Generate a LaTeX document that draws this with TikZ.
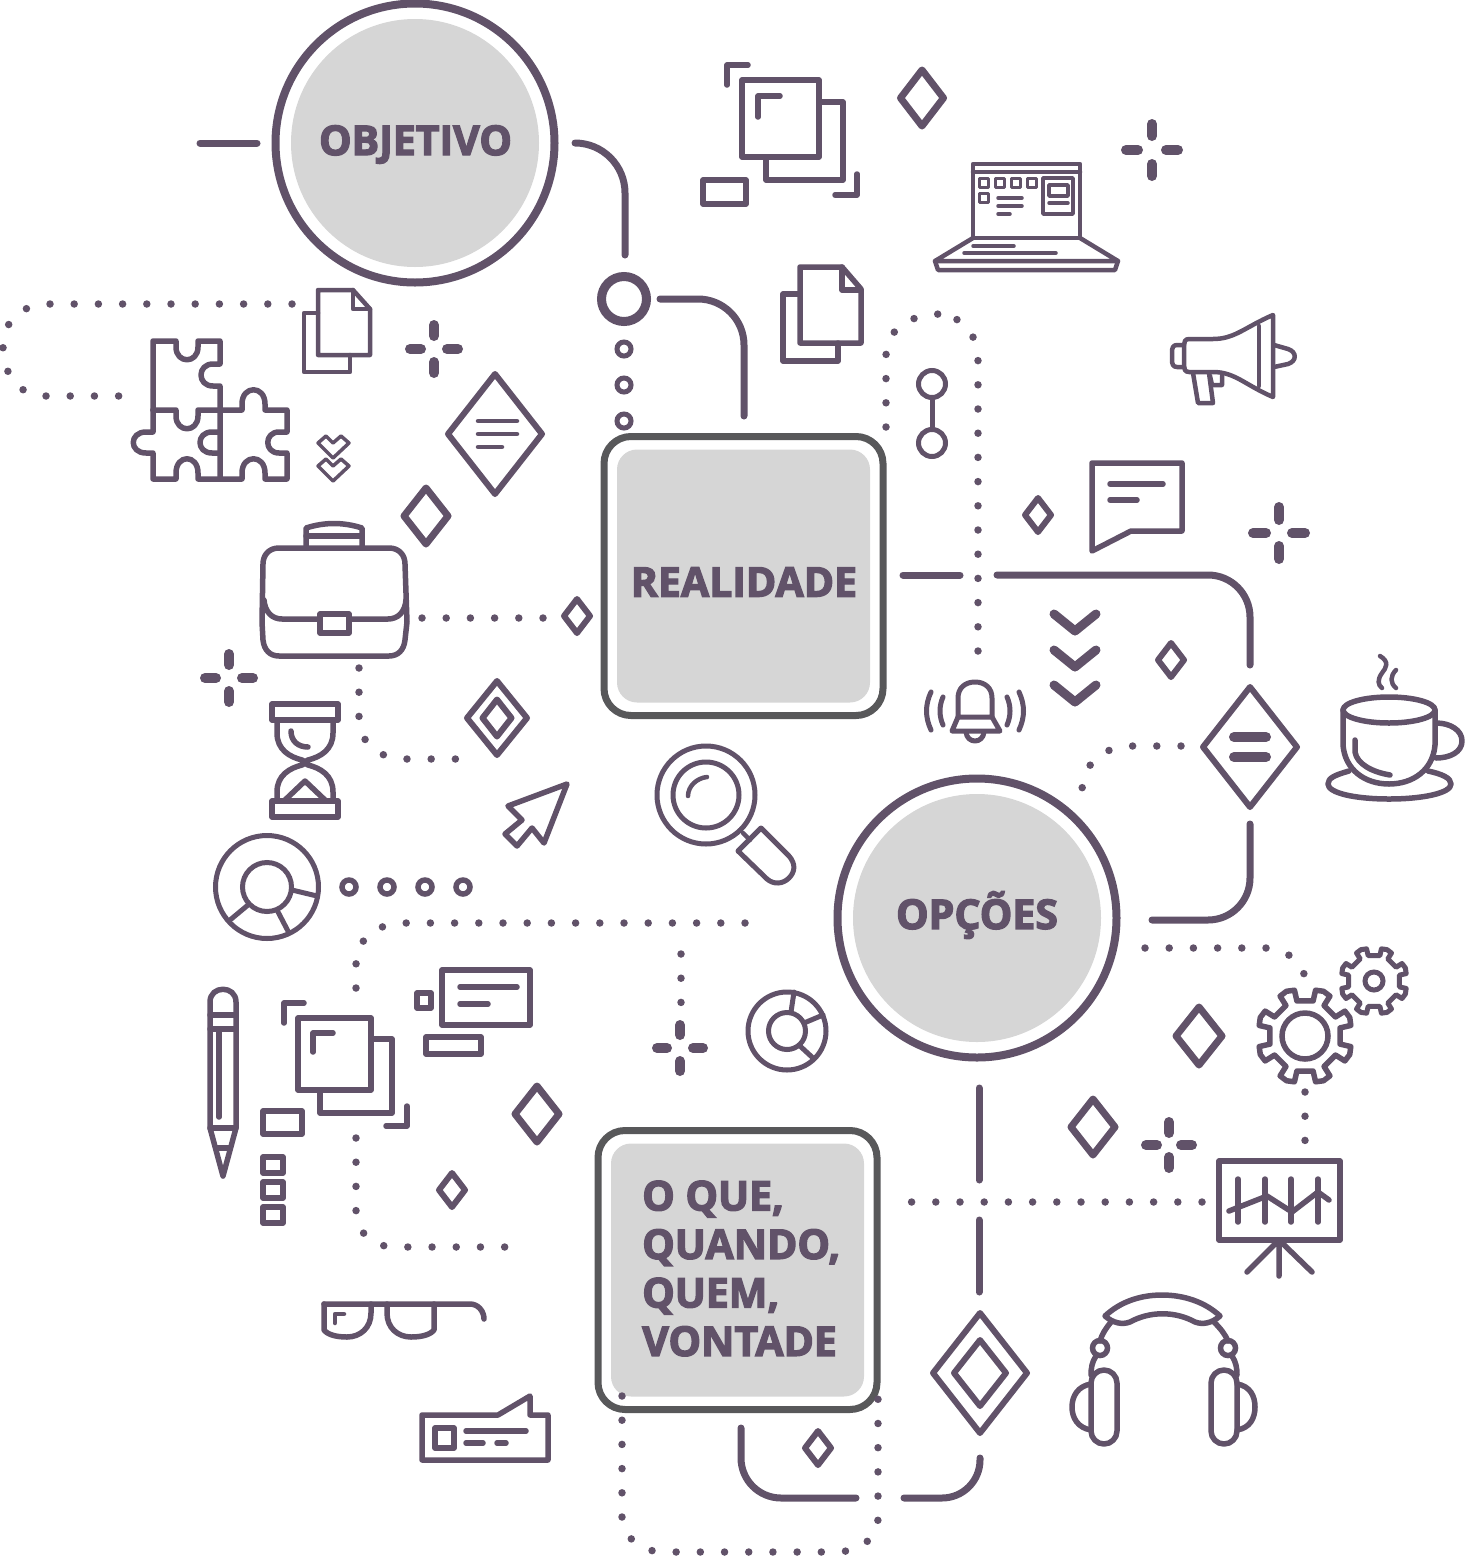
\documentclass[tikz,border=0pt]{standalone}
\usepackage{fontspec}
\newfontfamily\hf[BoldFeatures={FakeBold=3.2}]{Open Sans}
\definecolor{ink}{HTML}{615269}
\definecolor{boxline}{HTML}{58585A}
\definecolor{panel}{HTML}{D6D6D6}
\tikzset{
  ic/.style={draw=ink,line width=5.5pt,line cap=round,line join=round},
  thin ic/.style={ic,line width=4.5pt},
  conn/.style={ic,line width=7pt},
  dots/.style={draw=ink,line width=7.5pt,line cap=round,dash pattern=on 0pt off 24.2pt},
  ringline/.style={circle,draw=ink,line width=8pt,minimum size=279pt,inner sep=0pt},
  boxlinest/.style={rectangle,rounded corners=27pt,draw=boxline,line width=7pt,minimum size=279pt,inner sep=0pt},
  discpanel/.style={circle,fill=panel,minimum size=248pt,inner sep=0pt,text=ink,font=\hf\bfseries\fontsize{41}{48.5}\selectfont},
  boxpanel/.style={rectangle,rounded corners=20pt,fill=panel,minimum size=253pt,inner sep=0pt,text=ink,font=\hf\bfseries\fontsize{41}{48.5}\selectfont},
}
\newcommand\Dia[5]{\draw[ic,line width=#5pt] ({#1-#3},#2) -- (#1,{#2-#4}) -- ({#1+#3},#2) -- (#1,{#2+#4}) -- cycle;}
\newcommand\Spark[4]{\draw[ic,line width=10pt] ({#1-#4},#2) -- ({#1-#3},#2) ({#1+#3},#2) -- ({#1+#4},#2) (#1,{#2-#4}) -- (#1,{#2-#3}) (#1,{#2+#3}) -- (#1,{#2+#4});}
% gear: cx cy outer root lw
\newcommand\Gear[5]{\draw[ic,line width=#5pt] ({#1+#3*cos(-13)},{#2+#3*sin(-13)})
  \foreach \k in {0,45,...,315}{
    -- ({#1+#4*cos(\k-13)},{#2+#4*sin(\k-13)})
    -- ({#1+#4*cos(\k+13)},{#2+#4*sin(\k+13)})
    -- ({#1+#3*cos(\k+13)},{#2+#3*sin(\k+13)})
    -- ({#1+#3*1.03*cos(\k+22.5)},{#2+#3*1.03*sin(\k+22.5)})
    -- ({#1+#3*cos(\k+32)},{#2+#3*sin(\k+32)})
  } -- cycle;}
\begin{document}
\begin{tikzpicture}[x=1pt,y=-1pt]
\useasboundingbox (0,0) rectangle (1472,1556);

% ---- main nodes
\node[ringline] (objring) at (415,143) {};
\node[discpanel] (objetivo) at (415,143) {};
\node[text=ink,inner sep=0pt,font=\hf\bfseries\fontsize{41}{48.5}\selectfont] (objtxt) at (415.5,144.5) {OBJETIVO};
\node[ringline] (opcring) at (977,918) {};
\node[discpanel] (opcoes) at (977,918) {};
\node[text=ink,inner sep=0pt,font=\hf\bfseries\fontsize{41}{48.5}\selectfont] (opctxt) at (977,915) {OPÇÕES};
\node[boxlinest] (realbox) at (743.5,576) {};
\node[boxpanel] (realidade) at (743.5,576) {};
\node[text=ink,inner sep=0pt,font=\hf\bfseries\fontsize{41}{48.5}\selectfont] (realtxt) at (744,582) {REALIDADE};
\node[boxlinest] (oquebox) at (737.5,1270) {};
\node[boxpanel] (oque) at (737.5,1270) {};
\node[anchor=west,inner sep=0pt,align=left,text=ink,font=\hf\bfseries\fontsize{41}{48.5}\selectfont] (oquetxt) at (642,1268.5) {O QUE,\\QUANDO,\\QUEM,\\VONTADE};

% ---- rings on the first connector
\node[circle,draw=ink,line width=9pt,minimum size=45pt,inner sep=0pt] (hub) at (624,299) {};
\node[circle,draw=ink,line width=5pt,minimum size=14pt,inner sep=0pt] (r1) at (624,349) {};
\node[circle,draw=ink,line width=5pt,minimum size=14pt,inner sep=0pt] (r2) at (624,385) {};
\node[circle,draw=ink,line width=5pt,minimum size=14pt,inner sep=0pt] (r3) at (624,421) {};
\foreach \n/\x in {d1/349,d2/387,d3/425,d4/463}
  \node[circle,draw=ink,line width=5.5pt,minimum size=14pt,inner sep=0pt] (\n) at (\x,887) {};
% small ring pair
\node[circle,draw=ink,line width=5pt,minimum size=27pt,inner sep=0pt] (p1) at (932,384) {};
\node[circle,draw=ink,line width=5pt,minimum size=27pt,inner sep=0pt] (p2) at (932,443) {};
\draw[ic,line width=5pt] (p1) -- (p2);

% ---- free connector ends
\coordinate (a0) at (200,143); \coordinate (a1) at (257,143);
\coordinate (b0) at (575,143); \coordinate (b1) at (625,143); \coordinate (b2) at (625,255);
\coordinate (c0) at (660,299); \coordinate (c1) at (744,299); \coordinate (c2) at (744,416);
\coordinate (e0) at (903,575); \coordinate (e1) at (960,575);
\coordinate (f0) at (997,575); \coordinate (f1) at (1250,575); \coordinate (f2) at (1250,665);
\coordinate (g0) at (1250,824); \coordinate (g1) at (1250,920); \coordinate (g2) at (1152,920);
\coordinate (h0) at (979,1088); \coordinate (h1) at (979,1180);
\coordinate (i0) at (979,1220); \coordinate (i1) at (979,1292);
\coordinate (j0) at (741,1428); \coordinate (j1) at (741,1498); \coordinate (j2) at (856,1498);
\coordinate (k0) at (904,1498); \coordinate (k1) at (980,1498); \coordinate (k2) at (980,1458);
\draw[conn] (a0) -- (a1);
\draw[conn,rounded corners=50pt] (b0) -- (b1) -- (b2);
\draw[conn,rounded corners=46pt] (c0) -- (c1) -- (c2);
\draw[conn] (e0) -- (e1);
\draw[conn,rounded corners=42pt] (f0) -- (f1) -- (f2);
\draw[conn,rounded corners=42pt] (g0) -- (g1) -- (g2);
\draw[conn] (h0) -- (h1);
\draw[conn] (i0) -- (i1);
\draw[conn,rounded corners=40pt] (j0) -- (j1) -- (j2);
\draw[conn,rounded corners=38pt] (k0) -- (k1) -- (k2);

% ---- dotted connectors
\draw[dots] (292,304) -- (50,304) .. controls (20,304) and (3,322) .. (3,347) .. controls (3,375) and (20,396) .. (44,396) -- (119,396);
\draw[dots] (886,427) -- (886,356) .. controls (886,332) and (906,314) .. (942,314);
\draw[dots] (978,651) -- (978,361) .. controls (978,342) and (970,326) .. (956,319);
\draw[dots] (422,618) -- (546,618);
\draw[dots] (359,668) -- (359,718) .. controls (359,742) and (378,759) .. (405,759) -- (457,759);
\draw[dots] (1181,746) -- (1132,746) .. controls (1105,746) and (1083,762) .. (1082,790);
\draw[dots] (745,923) -- (405,923) .. controls (375,923) and (356,940) .. (356,965) -- (356,992);
\draw[dots] (356,1138) -- (356,1210) .. controls (356,1232) and (372,1247) .. (395,1247) -- (511,1247);
\draw[dots] (681,954) -- (681,1003);
\draw[dots] (1145,948) -- (1266,948) .. controls (1285,950) and (1298,958) .. (1304,974);
\draw[dots] (1305,1092) -- (1305,1141);
\draw[dots] (1202,1202) -- (910,1202);
\draw[dots] (622,1396) -- (622,1517) .. controls (624,1538) and (640,1552) .. (665,1552) -- (835,1552) .. controls (860,1552) and (878,1538) .. (878,1518) -- (878,1396);

% ---- diamonds
\Dia{922}{98}{21.5}{28}{7}
\Dia{495}{434}{47}{60}{6}
\draw[ic,line width=4.5pt] (478,421) -- (517,421) (478,434) -- (517,434) (478,447) -- (502,447);
\Dia{426}{516}{22}{28}{7}
\Dia{577}{616}{13}{17}{6}
\Dia{1038}{515}{13}{17}{6}
\Dia{1171}{660}{13}{17}{6}
\Dia{1250}{747}{47}{60}{6}
\draw[ic,line width=10pt] (1234,737) -- (1266,737) (1234,757) -- (1266,757);
\Dia{497}{718}{30}{37}{6}
\Dia{497}{718}{14.5}{18.5}{6}
\Dia{1199}{1036}{23}{29}{7}
\Dia{1093}{1127}{22}{28}{7}
\Dia{537}{1114}{22}{28}{7}
\Dia{452}{1190}{13}{17}{6}
\Dia{818}{1448}{13}{17}{6}
\Dia{980}{1373}{47}{60}{6}
\Dia{980}{1373}{26}{33}{6}

% ---- sparks
\Spark{1152}{150}{14}{26}
\Spark{434}{349}{13}{24}
\Spark{1279}{533}{13}{26}
\Spark{229}{678}{13}{24}
\Spark{680}{1048}{13}{23}
\Spark{1169}{1145}{12}{23}

% ---- layered squares, top
\draw[ic] (742,80) rectangle (819,157);
\draw[ic] (819,102) -- (843,102) -- (843,180) -- (766,180) -- (766,157);
\draw[ic] (727,85) -- (727,65) -- (748,65);
\draw[ic] (758,117) -- (758,96) -- (780,96);
\draw[ic] (835,195) -- (857,195) -- (857,174);
\draw[ic] (703,180) rectangle (746,204);

% ---- laptop
\draw[thin ic] (973,238) -- (973,164) -- (1080,164) -- (1080,238) -- cycle;
\draw[thin ic] (973,172) -- (1080,172);
\foreach \x/\y in {984/183,1000/183,1016/183,1032/183,984/198}
  \draw[ic,line width=3.5pt] ({\x-4.5},{\y-4.5}) rectangle ({\x+4.5},{\y+4.5});
\draw[ic,line width=3.5pt] (998,198) -- (1022,198) (998,206) -- (1022,206) (998,214) -- (1010,214);
\draw[ic,line width=3.5pt] (1043,178) rectangle (1073,214);
\draw[ic,line width=3.5pt] (1049,185) rectangle (1068,196);
\draw[ic,line width=3.5pt] (1049,203) -- (1068,203);
\draw[thin ic] (973,238) -- (935,261) -- (1118,261) -- (1080,238);
\draw[thin ic] (935,261) -- (938,270) -- (1115,270) -- (1118,261);
\draw[ic,line width=3.5pt] (973,246) -- (1014,246) (964,253) -- (1056,253);

% ---- documents
\draw[ic] (800,267) -- (842,267) -- (861,289) -- (861,343) -- (800,343) -- cycle;
\draw[ic] (842,267) -- (842,290) -- (861,290);
\draw[ic] (800,294) -- (783,294) -- (783,361) -- (838,361) -- (838,343);
\draw[thin ic] (318,290) -- (353,290) -- (370,309) -- (370,355) -- (318,355) -- cycle;
\draw[thin ic] (353,290) -- (353,309) -- (370,309);
\draw[thin ic] (318,313) -- (304,313) -- (304,372) -- (350,372) -- (350,355);

% ---- megaphone
\draw[thin ic] (1189,339) -- (1213,339) .. controls (1235,339) and (1245,327) .. (1273,315) -- (1273,397) .. controls (1245,385) and (1235,372) .. (1213,372) -- (1189,372) .. controls (1185,372) and (1184,369) .. (1184,366) -- (1184,345) .. controls (1184,342) and (1185,339) .. (1189,339) -- cycle;
\draw[thin ic] (1259,326) -- (1259,386);
\draw[thin ic] (1184,345) -- (1177,345) .. controls (1173,345) and (1172,348) .. (1172,352) -- (1172,360) .. controls (1172,364) and (1173,367) .. (1177,367) -- (1184,367);
\draw[thin ic] (1274,345) -- (1288,349) .. controls (1297,352) and (1297,361) .. (1288,364) -- (1274,367);
\draw[thin ic] (1193,373) -- (1198,403) -- (1213,403) -- (1209,373);
\draw[thin ic] (1210,376) -- (1212,385) -- (1222,385) -- (1222,376);

% ---- speech bubble
\draw[ic] (1092,463) -- (1182,463) -- (1182,531) -- (1131,531) -- (1092,551) -- cycle;
\draw[ic] (1110,484) -- (1163,484) (1110,500) -- (1137,500);

% ---- big chevrons
\draw[ic,line width=9pt] (1054,614) -- (1075,631) -- (1096,614);
\draw[ic,line width=9pt] (1054,650) -- (1075,667) -- (1096,650);
\draw[ic,line width=9pt] (1054,685) -- (1075,702) -- (1096,685);

% ---- small chevrons
\draw[ic,line width=3.5pt] (318,443) -- (326,436) -- (333,443) -- (341,436) -- (349,443) -- (333,458) -- cycle;
\draw[ic,line width=3.5pt] (318,466) -- (326,459) -- (333,466) -- (341,459) -- (349,466) -- (333,481) -- cycle;

% ---- cup
\draw[ic] (1389,710) ellipse [x radius=46pt,y radius=13pt];
\draw[ic] (1343,710) -- (1343,745) .. controls (1345,770) and (1365,784) .. (1389,784) .. controls (1413,784) and (1433,770) .. (1435,745) -- (1435,710);
\draw[ic] (1436,723) .. controls (1450,723) and (1462,730) .. (1462,741) .. controls (1462,752) and (1450,758) .. (1436,758);
\draw[ic] (1355,740) -- (1355,752) .. controls (1357,764) and (1372,772) .. (1390,775);
\draw[ic] (1349,771) .. controls (1335,775) and (1328,778) .. (1328,784) .. controls (1328,793) and (1355,799) .. (1389,799) .. controls (1423,799) and (1451,793) .. (1451,784) .. controls (1451,778) and (1442,774) .. (1428,771);
\draw[thin ic] (1380,656) .. controls (1390,662) and (1386,668) .. (1382,673) .. controls (1377,680) and (1378,685) .. (1382,688);
\draw[thin ic] (1396,670) .. controls (1390,676) and (1390,683) .. (1396,688);

% ---- puzzle
\draw[ic] (153,410) -- (153,341) -- (176,341) -- (176,347) .. controls (176,364) and (198,364) .. (198,347) -- (198,341) -- (220,341) -- (220,364) -- (213,364) .. controls (197,364) and (197,386) .. (213,386) -- (220,386) -- (220,479);
\draw[ic] (153,410) -- (176,410) -- (176,416) .. controls (176,433) and (198,433) .. (198,416) -- (198,410) -- (220,410);
\draw[ic] (220,432) -- (212,432) .. controls (196,432) and (196,453) .. (212,453) -- (220,453);
\draw[ic] (153,410) -- (153,432) -- (146,432) .. controls (129,432) and (129,453) .. (146,453) -- (153,453) -- (153,479) -- (176,479) -- (176,473) .. controls (176,454) and (198,454) .. (198,473) -- (198,479) -- (220,479) -- (242,479) -- (242,473) .. controls (242,454) and (265,454) .. (265,473) -- (265,479) -- (287,479) -- (287,453) -- (279,453) .. controls (264,453) and (264,432) .. (279,432) -- (287,432) -- (287,410) -- (265,410) -- (265,404) .. controls (265,385) and (242,385) .. (242,404) -- (242,410) -- (220,410);

% ---- briefcase
\draw[ic] (279,548) -- (389,548) .. controls (399,548) and (405,555) .. (405,564) -- (407,622) -- (405,640) .. controls (404,650) and (398,656) .. (389,656) -- (279,656) .. controls (270,656) and (264,650) .. (263,640) -- (262,622) -- (263,564) .. controls (263,555) and (269,548) .. (279,548) -- cycle;
\draw[ic] (264,600) .. controls (265,612) and (272,619) .. (282,619) -- (320,619);
\draw[ic] (349,619) -- (388,619) .. controls (398,619) and (405,612) .. (406,600);
\draw[ic] (320,614) rectangle (349,633);
\draw[ic] (306,548) -- (306,528) .. controls (325,522) and (343,522) .. (362,528) -- (362,548);
\draw[ic] (306,536) -- (362,536);

% ---- hourglass
\draw[ic] (272,704) rectangle (338,720);
\draw[ic] (272,801) rectangle (338,817);
\draw[ic] (277,721) -- (277,733) .. controls (277,750) and (290,757) .. (302,760) .. controls (305,761) and (305,764) .. (302,765) .. controls (290,768) and (277,775) .. (277,792) -- (277,800);
\draw[ic] (333,721) -- (333,733) .. controls (333,750) and (320,757) .. (308,760) .. controls (305,761) and (305,764) .. (308,765) .. controls (320,768) and (333,775) .. (333,792) -- (333,800);
\draw[ic] (291,731) .. controls (291,741) and (298,747) .. (308,747);
\draw[ic] (285,800) -- (305,781) -- (325,800);

% ---- cursor
\draw[ic] (567,784) -- (508,806) -- (522,820) -- (505,834) -- (517,846) -- (532,828) -- (544,843) -- cycle;

% ---- donuts
\node[circle,draw=ink,line width=5pt,minimum size=103pt,inner sep=0pt] (don1) at (267,887) {};
\node[circle,draw=ink,line width=5pt,minimum size=49pt,inner sep=0pt] (don1c) at (267,887) {};
\draw[ic,line width=5pt] (292,890) -- (317,896) (248,905) -- (230,920) (277,910) -- (289,933);
\node[circle,draw=ink,line width=5pt,minimum size=78pt,inner sep=0pt] (don2) at (787,1031) {};
\node[circle,draw=ink,line width=5pt,minimum size=37pt,inner sep=0pt] (don2c) at (787,1031) {};
\draw[ic,line width=5pt] (791,1012) -- (794,992) (804,1023) -- (823,1015) (800,1046) -- (813,1058);

% ---- magnifier
\node[circle,draw=ink,line width=5pt,minimum size=98pt,inner sep=0pt] (mag1) at (706,795) {};
\node[circle,draw=ink,line width=5pt,minimum size=66pt,inner sep=0pt] (mag2) at (706,795) {};
\draw[ic,line width=4.5pt] (688,796) .. controls (688,786) and (697,778) .. (707,777);
\draw[ic,line width=4.5pt] (743,833) -- (750,840);
\draw[ic,line width=5pt] (761,828) -- (789,856) .. controls (796,864) and (795,872) .. (789,878) .. controls (783,884) and (774,885) .. (767,879) -- (738,851) -- cycle;

% ---- bell
\draw[ic,line width=5pt] (958,717) -- (958,698) .. controls (958,688) and (965,682) .. (975,682) .. controls (985,682) and (992,688) .. (992,698) -- (992,717) -- cycle;
\draw[ic,line width=5pt] (958,717) -- (952,731) -- (1000,731) -- (992,717);
\draw[ic,line width=5pt] (966,732) .. controls (967,744) and (983,744) .. (984,732);
\draw[ic,line width=5pt] (943,697) .. controls (939,706) and (939,716) .. (943,725) (1007,697) .. controls (1011,706) and (1011,716) .. (1007,725);
\draw[ic,line width=5pt] (931,692) .. controls (925,705) and (925,717) .. (931,730) (1019,692) .. controls (1025,705) and (1025,717) .. (1019,730);

% ---- pencil
\draw[ic] (210,1128) -- (210,1002) .. controls (210,985) and (236,985) .. (236,1002) -- (236,1128) -- (223,1176) -- cycle;
\draw[ic] (210,1015) -- (236,1015) (210,1029) -- (236,1029) (219,1029) -- (219,1117) (210,1128) -- (236,1128) (217,1148) -- (229,1148);

% ---- layered squares, lower
\draw[ic] (298,1018) rectangle (371,1090);
\draw[ic] (371,1039) -- (392,1039) -- (392,1113) -- (320,1113) -- (320,1090);
\draw[ic] (284,1023) -- (284,1003) -- (304,1003);
\draw[ic] (313,1052) -- (313,1033) -- (333,1033);
\draw[ic] (386,1126) -- (407,1126) -- (407,1106);
\draw[ic] (263,1111) rectangle (302,1134);
\draw[ic] (263,1157) rectangle (283,1173);
\draw[ic] (263,1182) rectangle (283,1198);
\draw[ic] (263,1207) rectangle (283,1223);
\draw[ic] (442,970) rectangle (530,1025);
\draw[ic] (460,987) -- (517,987) (460,1004) -- (488,1004);
\draw[ic] (417,993) rectangle (431,1008);
\draw[ic] (426,1037) rectangle (481,1054);

% ---- glasses
\draw[ic] (324,1304) -- (470,1304) .. controls (478,1304) and (484,1311) .. (484,1319);
\draw[ic] (371,1304) -- (371,1313) .. controls (371,1328) and (360,1337) .. (347,1337) .. controls (337,1337) and (328,1335) .. (324,1330) -- (324,1304);
\draw[ic] (387,1304) -- (387,1313) .. controls (387,1328) and (398,1337) .. (411,1337) .. controls (421,1337) and (430,1335) .. (434,1330) -- (434,1304);
\draw[ic,line width=4.5pt] (335,1323) -- (335,1314) -- (344,1314);

% ---- card with tab
\draw[ic] (422,1415) -- (498,1415) -- (530,1396) -- (530,1415) -- (548,1415) -- (548,1460) -- (422,1460) -- cycle;
\draw[ic] (435,1428) rectangle (454,1448);
\draw[ic] (466,1431) -- (526,1431) (466,1443) -- (483,1443) (497,1443) -- (506,1443);

% ---- gears
\Gear{1305}{1036}{47}{36}{5.5}
\node[circle,draw=ink,line width=5.5pt,minimum size=46pt,inner sep=0pt] (gear1c) at (1305,1036) {};
\Gear{1374}{981}{33}{26}{5}
\node[circle,draw=ink,line width=5pt,minimum size=18pt,inner sep=0pt] (gear2c) at (1374,981) {};

% ---- presentation board
\draw[ic] (1219,1161) rectangle (1340,1240);
\draw[ic] (1238,1179) -- (1238,1222) (1265,1179) -- (1265,1222) (1291,1179) -- (1291,1222) (1318,1179) -- (1318,1222);
\draw[ic] (1229,1211) -- (1267,1196) -- (1292,1212) -- (1318,1192) -- (1329,1200);
\draw[ic] (1279,1240) -- (1279,1276) (1279,1240) -- (1247,1272) (1279,1240) -- (1312,1272);

% ---- headphones
\draw[ic] (1105,1316) .. controls (1120,1302) and (1140,1295) .. (1162,1295) .. controls (1184,1295) and (1205,1302) .. (1220,1316) .. controls (1212,1323) and (1203,1325) .. (1195,1322) .. controls (1175,1311) and (1150,1311) .. (1130,1322) .. controls (1122,1325) and (1113,1323) .. (1105,1316) -- cycle;
\draw[ic] (1111,1322) .. controls (1106,1328) and (1102,1334) .. (1100,1341);
\draw[ic] (1214,1322) .. controls (1220,1328) and (1225,1334) .. (1228,1341);
\node[circle,draw=ink,line width=5.5pt,minimum size=15pt,inner sep=0pt] (hpl) at (1100,1348) {};
\node[circle,draw=ink,line width=5.5pt,minimum size=15pt,inner sep=0pt] (hpr) at (1228,1348) {};
\draw[ic] (1096,1356) .. controls (1092,1362) and (1091,1368) .. (1091,1375);
\draw[ic] (1232,1356) .. controls (1236,1362) and (1237,1368) .. (1237,1375);
\draw[ic,rounded corners=13pt] (1091,1370) rectangle (1117,1444);
\draw[ic,rounded corners=13pt] (1211,1370) rectangle (1237,1444);
\draw[ic] (1091,1384) .. controls (1078,1386) and (1072,1396) .. (1072,1407) .. controls (1072,1418) and (1078,1428) .. (1091,1430);
\draw[ic] (1237,1384) .. controls (1250,1386) and (1255,1396) .. (1255,1407) .. controls (1255,1418) and (1250,1428) .. (1237,1430);
\end{tikzpicture}
\end{document}
